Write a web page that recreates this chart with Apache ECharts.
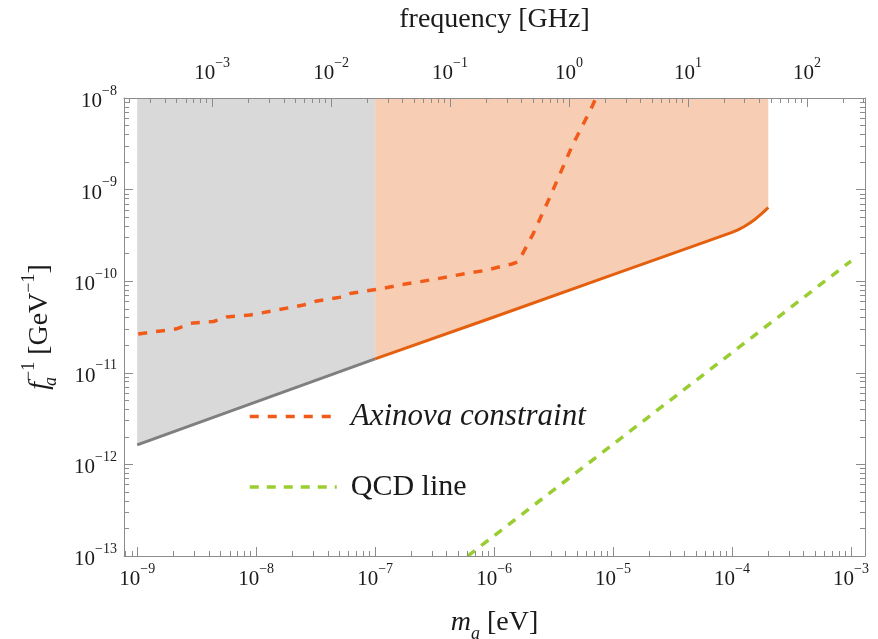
<!DOCTYPE html>
<html><head><meta charset="utf-8">
<script src="https://cdn.jsdelivr.net/npm/echarts@6/dist/echarts.min.js"></script>
<style>html,body{margin:0;padding:0;background:#fff}#c{width:878px;height:639px}</style>
</head><body><div id="c"></div>
<script>
// ---- data: m_a [eV] and f_a^-1 [GeV^-1] ----
const grayBoundM = [1e-9, 1e-7];
const grayBoundF = [1.63e-12, 1.42e-11];
const orangeBoundM = [1e-7, 1e-6, 1e-5, 5e-5, 7.94e-5, 1e-4, 1.122e-4, 1.259e-4, 1.413e-4, 1.585e-4, 1.778e-4, 1.905e-4, 2.018e-4];
const orangeBoundF = [1.42e-11, 4.07e-11, 1.18e-10, 2.48e-10, 3.07e-10, 3.41e-10, 3.63e-10, 3.93e-10, 4.31e-10, 4.81e-10, 5.46e-10, 5.94e-10, 6.38e-10];
const axinovaM = [1.02e-9, 2.14e-9, 2.82e-9, 4.37e-9, 5.62e-9, 8.9e-9, 2.5e-8, 3.16e-8, 5.4e-8, 6.3e-8, 1.15e-7, 1.62e-7, 3.3e-7, 5.9e-7, 8.4e-7, 1.2e-6, 1.41e-6, 1.6e-6, 1.66e-6, 2.14e-6, 2.96e-6, 4.5e-6, 6.65e-6, 7.4e-6];
const axinovaF = [2.65e-11, 3.02e-11, 3.47e-11, 3.63e-11, 4.07e-11, 4.27e-11, 5.5e-11, 6.03e-11, 6.76e-11, 7.4e-11, 8.3e-11, 9.1e-11, 1.06e-10, 1.22e-10, 1.31e-10, 1.47e-10, 1.54e-10, 1.63e-10, 1.70e-10, 3.33e-10, 8.4e-10, 2.94e-9, 8.0e-9, 1.1e-8];
const qcdM = [6.0e-7, 1e-6, 1e-5, 1e-4, 1e-3];
const qcdF = [1.0e-13, 1.66e-13, 1.66e-12, 1.66e-11, 1.66e-10];
const xTickExp = [-9, -8, -7, -6, -5, -4, -3];
const yTickExp = [-13, -12, -11, -10, -9, -8];
const freqTickExp = [-3, -2, -1, 0, 1, 2];
const legendNames = ['Axinova constraint', 'QCD line'];

// ---- layout / style ----
const FONT = '"Liberation Serif", "Times New Roman", serif';
const TXT = '#1a1a1a';
const FRAME = '#8c8c8c';
const L = Math.log10;
const XMIN = -9.111, XMAX = -2.882, YMIN = -13, YMAX = -8;
const FOFF = 5.37; // log10 shift between m_a [eV] and frequency [GHz] on the top axis

function minor(lo, hi) {
  const r = [];
  for (let d = Math.floor(lo) - 1; d <= Math.ceil(hi); d++)
    for (let k = 2; k <= 9; k++) { const v = d + Math.log10(k); if (v > lo && v < hi) r.push(v); }
  return r;
}
const pts = (xs, ys) => xs.map((x, i) => [L(x), L(ys[i])]);
const supFmt = v => '{b|10}{s|' + (v < 0 ? '\u2212' : '') + Math.abs(v) + '}';
const labelRich = {
  b: { fontFamily: FONT, fontSize: 21, color: TXT, lineHeight: 28, verticalAlign: 'bottom' },
  s: { fontFamily: FONT, fontSize: 14, color: TXT, lineHeight: 14, verticalAlign: 'top' }
};
const nameRich = {
  it: { fontFamily: FONT, fontSize: 28, fontStyle: 'italic', color: TXT, lineHeight: 40, verticalAlign: 'middle' },
  r: { fontFamily: FONT, fontSize: 28, color: TXT, lineHeight: 40, verticalAlign: 'middle' },
  sub: { fontFamily: FONT, fontSize: 18, fontStyle: 'italic', color: TXT, lineHeight: 24, verticalAlign: 'bottom' },
  subs: { fontFamily: FONT, fontSize: 18, fontStyle: 'italic', color: TXT, lineHeight: 24, verticalAlign: 'bottom', width: 1 },
  sup: { fontFamily: FONT, fontSize: 18, color: TXT, lineHeight: 20, verticalAlign: 'top' }
};

function axis(o) {
  return Object.assign({
    type: 'value', splitLine: { show: false }, z: 10,
    axisLine: { show: true, onZero: false, lineStyle: { color: FRAME, width: 1 } },
    axisTick: { show: true, inside: true, length: 9, lineStyle: { color: FRAME, width: 1 } },
    axisLabel: { show: false },
    silent: true
  }, o);
}
function minorAxis(o, vals) {
  return axis(Object.assign({
    axisLine: { show: false, onZero: false },
    axisTick: { show: true, inside: true, length: 5, customValues: vals, lineStyle: { color: FRAME, width: 1 } }
  }, o));
}

const grid = { left: 124, right: 13, top: 98, bottom: 83, containLabel: false, outerBoundsMode: 'none' };

const option = {
  backgroundColor: '#fff',
  animation: false,
  grid: [Object.assign({}, grid), Object.assign({}, grid)],
  xAxis: [
    axis({ gridIndex: 0, position: 'bottom', min: XMIN, max: XMAX,
      axisTick: { show: true, inside: true, length: 9, customValues: xTickExp, lineStyle: { color: FRAME } },
      axisLabel: { show: true, customValues: xTickExp, formatter: supFmt, rich: labelRich, margin: 6 },
      name: '{it|m}{sub|a}{r| [eV]}', nameLocation: 'middle', nameGap: 47,
      nameTextStyle: { rich: nameRich } }),
    axis({ gridIndex: 0, position: 'top', min: XMIN + FOFF, max: XMAX + FOFF,
      axisTick: { show: true, inside: true, length: 9, customValues: freqTickExp, lineStyle: { color: FRAME } },
      axisLabel: { show: true, customValues: freqTickExp, formatter: supFmt, rich: labelRich, margin: 14 },
      name: '{r|frequency [GHz]}', nameLocation: 'middle', nameGap: 58,
      nameTextStyle: { rich: nameRich } }),
    minorAxis({ gridIndex: 1, position: 'bottom', min: XMIN, max: XMAX }, minor(XMIN, XMAX)),
    minorAxis({ gridIndex: 1, position: 'top', min: XMIN + FOFF, max: XMAX + FOFF }, minor(XMIN + FOFF, XMAX + FOFF))
  ],
  yAxis: [
    axis({ gridIndex: 0, position: 'left', min: YMIN, max: YMAX,
      axisTick: { show: true, inside: true, length: 9, customValues: yTickExp, lineStyle: { color: FRAME } },
      axisLabel: { show: true, customValues: yTickExp, formatter: supFmt, rich: labelRich, margin: 7 },
      name: '{it|f}{subs|a}{sup|\u22121}{r| [GeV}{sup|\u22121}{r|]}', nameLocation: 'middle', nameGap: 64, nameRotate: 90,
      nameTextStyle: { rich: nameRich } }),
    axis({ gridIndex: 0, position: 'right', min: YMIN, max: YMAX,
      axisTick: { show: true, inside: true, length: 9, customValues: yTickExp, lineStyle: { color: FRAME } } }),
    minorAxis({ gridIndex: 1, position: 'left', min: YMIN, max: YMAX }, minor(YMIN, YMAX)),
    minorAxis({ gridIndex: 1, position: 'right', min: YMIN, max: YMAX }, minor(YMIN, YMAX))
  ],
  legend: {
    data: legendNames, orient: 'vertical', left: 243, top: 396,
    itemWidth: 87, itemHeight: 30, itemGap: 40, selectedMode: false,
    itemStyle: { color: 'rgba(0,0,0,0)', borderWidth: 0, opacity: 0 },
    lineStyle: { width: 3.5 },
    formatter: n => n === 'QCD line' ? '{r|' + n + '}' : '{i|' + n + '}',
    textStyle: { rich: {
      i: { fontFamily: FONT, fontSize: 31, fontStyle: 'italic', color: TXT, padding: [0, 0, 0, 9] },
      r: { fontFamily: FONT, fontSize: 30, color: TXT, padding: [0, 0, 0, 9] }
    } }
  },
  series: [
    { type: 'line', name: 'excluded-low', data: pts(grayBoundM, grayBoundF), symbol: 'none', silent: true,
      lineStyle: { color: '#7f7f7f', width: 3 }, areaStyle: { color: '#d9d9d9', opacity: 1, origin: 'end' }, z: 2 },
    { type: 'line', name: 'excluded-high', data: pts(orangeBoundM, orangeBoundF), symbol: 'none', silent: true,
      lineStyle: { color: '#e4600f', width: 3, join: 'round' }, areaStyle: { color: '#f7cdb3', opacity: 1, origin: 'end' }, z: 2 },
    { type: 'line', name: legendNames[0], data: pts(axinovaM, axinovaF), symbol: 'none', silent: true,
      lineStyle: { color: '#f25a1a', width: 3.5, type: [9, 9] }, itemStyle: { color: '#f25a1a' }, z: 3 },
    { type: 'line', name: legendNames[1], data: pts(qcdM, qcdF), symbol: 'none', silent: true,
      lineStyle: { color: '#9acd32', width: 3.5, type: [9, 8] }, itemStyle: { color: '#9acd32' }, z: 3 }
  ]
};
const chart = echarts.init(document.getElementById('c'), null, { renderer: 'canvas' });
chart.setOption(option);
</script></body></html>
